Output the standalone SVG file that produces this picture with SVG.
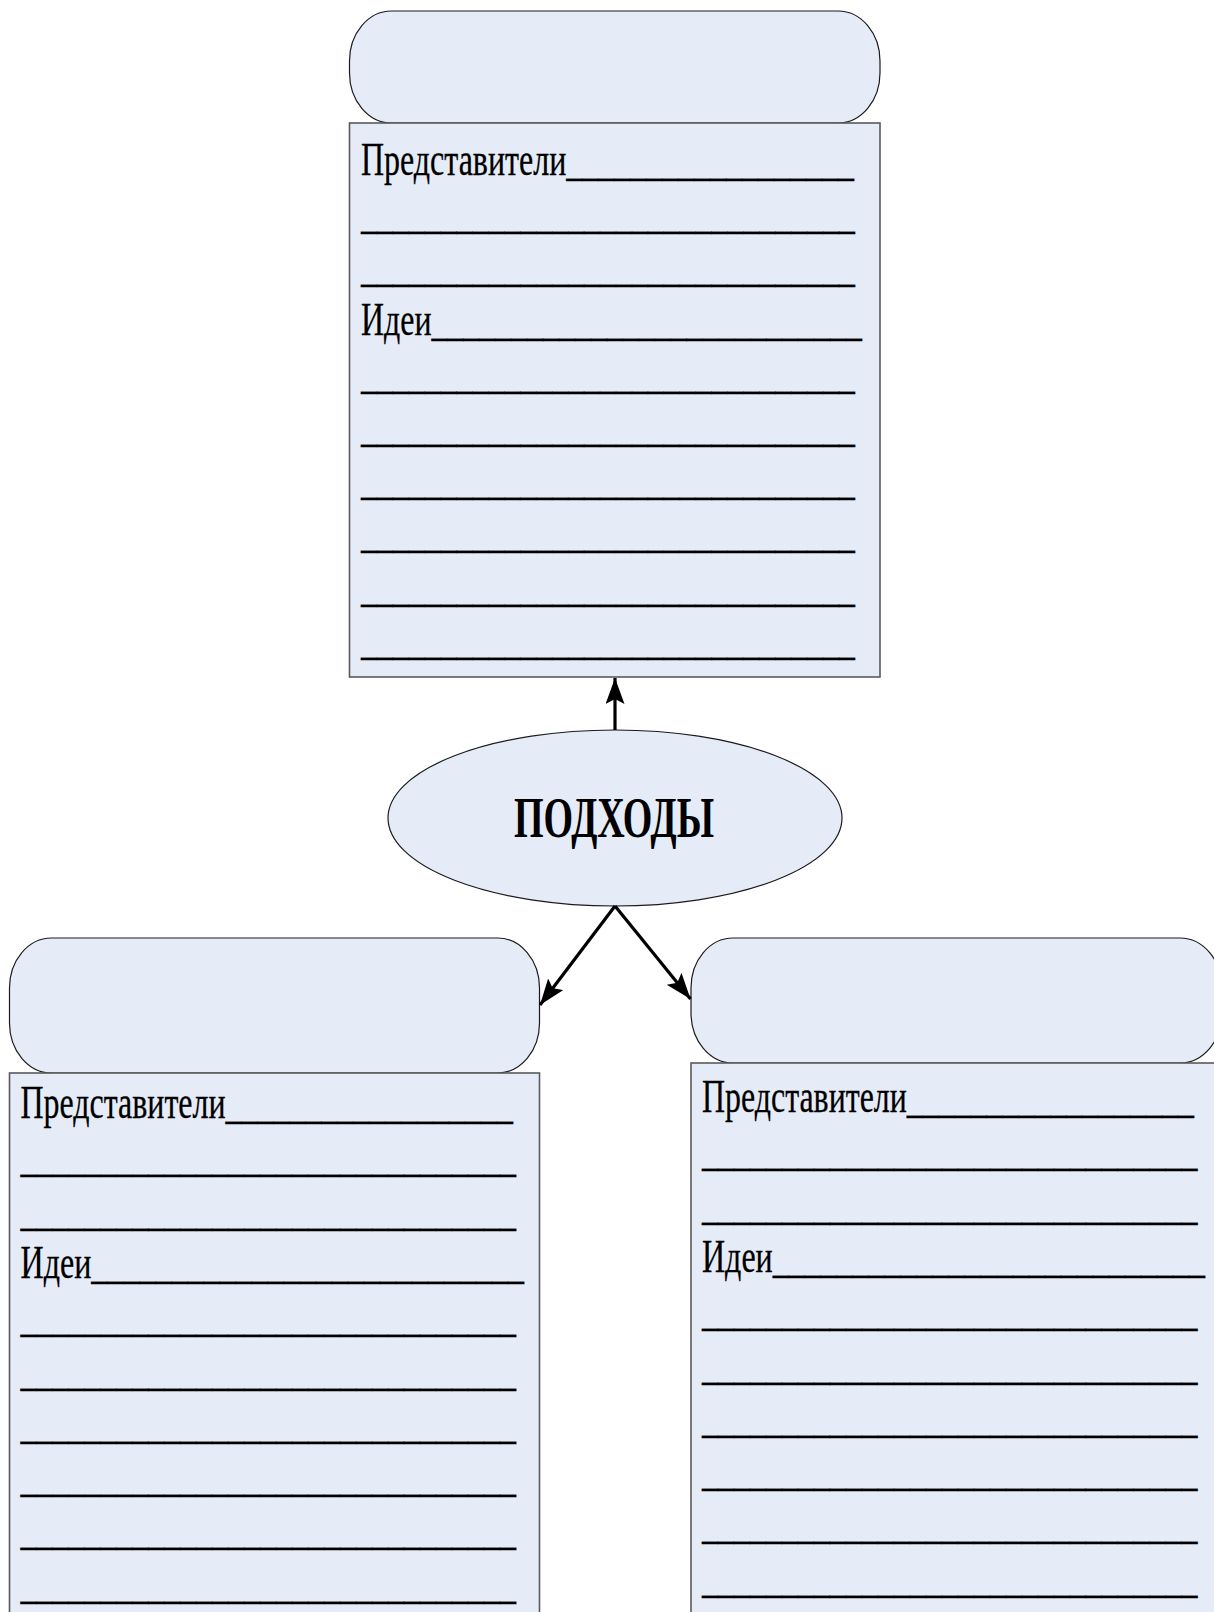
<svg xmlns="http://www.w3.org/2000/svg" width="1214" height="1612" viewBox="0 0 1214 1612">
<style>
.cap{fill:#E6ECF7;stroke:#1a1a1a;stroke-width:1.2}
.body{fill:#E6ECF7;stroke:#5a5a5a;stroke-width:1.6}
.t{font-family:"Liberation Serif","Times New Roman",serif;font-size:46px;fill:#000;stroke:#000;stroke-width:0.3}
.h{font-family:"Liberation Serif","Times New Roman",serif;font-size:56px;font-weight:bold;fill:#000}
.arr{stroke:#000;stroke-width:3.2;fill:none}
</style>
<defs>
<marker id="ah" markerUnits="userSpaceOnUse" markerWidth="28" markerHeight="20" refX="26" refY="9.5" orient="auto">
<path d="M0,0 L26,9.5 L0,19 L5,9.5 z" fill="#000"/>
</marker>
</defs>
<rect width="1214" height="1612" fill="#fff"/>

<g id="node-top">
<rect class="cap" x="349.5" y="11" width="530.5" height="112" rx="42" ry="50"/>
<rect class="body" x="349.5" y="123" width="530.5" height="554"/>
<text class="t" x="361" y="175" textLength="493" lengthAdjust="spacingAndGlyphs">Представители__________________</text>
<text class="t" x="361" y="228.2" textLength="494" lengthAdjust="spacingAndGlyphs">_______________________________</text>
<text class="t" x="361" y="281.4" textLength="494" lengthAdjust="spacingAndGlyphs">_______________________________</text>
<text class="t" x="361" y="334.6" textLength="501" lengthAdjust="spacingAndGlyphs">Идеи___________________________</text>
<text class="t" x="361" y="387.8" textLength="494" lengthAdjust="spacingAndGlyphs">_______________________________</text>
<text class="t" x="361" y="441" textLength="494" lengthAdjust="spacingAndGlyphs">_______________________________</text>
<text class="t" x="361" y="494.2" textLength="494" lengthAdjust="spacingAndGlyphs">_______________________________</text>
<text class="t" x="361" y="547.4" textLength="494" lengthAdjust="spacingAndGlyphs">_______________________________</text>
<text class="t" x="361" y="600.6" textLength="494" lengthAdjust="spacingAndGlyphs">_______________________________</text>
<text class="t" x="361" y="653.8" textLength="494" lengthAdjust="spacingAndGlyphs">_______________________________</text>
</g>

<g id="node-center">
<ellipse class="cap" cx="615" cy="818" rx="227" ry="88"/>
<text class="h" x="614" y="837" text-anchor="middle" textLength="200" lengthAdjust="spacingAndGlyphs">ПОДХОДЫ</text>
</g>

<g id="node-left">
<rect class="cap" x="9.5" y="938" width="530" height="135" rx="42" ry="50"/>
<rect class="body" x="9.5" y="1073" width="530" height="560"/>
<text class="t" x="20.5" y="1118" textLength="492.5" lengthAdjust="spacingAndGlyphs">Представители__________________</text>
<text class="t" x="20.5" y="1171.3" textLength="495.5" lengthAdjust="spacingAndGlyphs">_______________________________</text>
<text class="t" x="20.5" y="1224.6" textLength="495.5" lengthAdjust="spacingAndGlyphs">_______________________________</text>
<text class="t" x="20.5" y="1277.9" textLength="503.5" lengthAdjust="spacingAndGlyphs">Идеи___________________________</text>
<text class="t" x="20.5" y="1331.2" textLength="495.5" lengthAdjust="spacingAndGlyphs">_______________________________</text>
<text class="t" x="20.5" y="1384.5" textLength="495.5" lengthAdjust="spacingAndGlyphs">_______________________________</text>
<text class="t" x="20.5" y="1437.8" textLength="495.5" lengthAdjust="spacingAndGlyphs">_______________________________</text>
<text class="t" x="20.5" y="1491.1" textLength="495.5" lengthAdjust="spacingAndGlyphs">_______________________________</text>
<text class="t" x="20.5" y="1544.4" textLength="495.5" lengthAdjust="spacingAndGlyphs">_______________________________</text>
<text class="t" x="20.5" y="1597.7" textLength="495.5" lengthAdjust="spacingAndGlyphs">_______________________________</text>
</g>

<g id="node-right">
<rect class="cap" x="691" y="938" width="531" height="125" rx="42" ry="50"/>
<rect class="body" x="691" y="1063" width="531" height="570"/>
<text class="t" x="702" y="1112" textLength="492" lengthAdjust="spacingAndGlyphs">Представители__________________</text>
<text class="t" x="702" y="1165.3" textLength="495.5" lengthAdjust="spacingAndGlyphs">_______________________________</text>
<text class="t" x="702" y="1218.6" textLength="495.5" lengthAdjust="spacingAndGlyphs">_______________________________</text>
<text class="t" x="702" y="1271.9" textLength="503" lengthAdjust="spacingAndGlyphs">Идеи___________________________</text>
<text class="t" x="702" y="1325.2" textLength="495.5" lengthAdjust="spacingAndGlyphs">_______________________________</text>
<text class="t" x="702" y="1378.5" textLength="495.5" lengthAdjust="spacingAndGlyphs">_______________________________</text>
<text class="t" x="702" y="1431.8" textLength="495.5" lengthAdjust="spacingAndGlyphs">_______________________________</text>
<text class="t" x="702" y="1485.1" textLength="495.5" lengthAdjust="spacingAndGlyphs">_______________________________</text>
<text class="t" x="702" y="1538.4" textLength="495.5" lengthAdjust="spacingAndGlyphs">_______________________________</text>
<text class="t" x="702" y="1591.7" textLength="495.5" lengthAdjust="spacingAndGlyphs">_______________________________</text>
</g>

<g id="connectors">
<line class="arr" x1="615" y1="730" x2="615" y2="678" marker-end="url(#ah)"/>
<line class="arr" x1="615" y1="906" x2="540" y2="1005" marker-end="url(#ah)"/>
<line class="arr" x1="615" y1="906" x2="690.5" y2="999" marker-end="url(#ah)"/>
</g>
</svg>
